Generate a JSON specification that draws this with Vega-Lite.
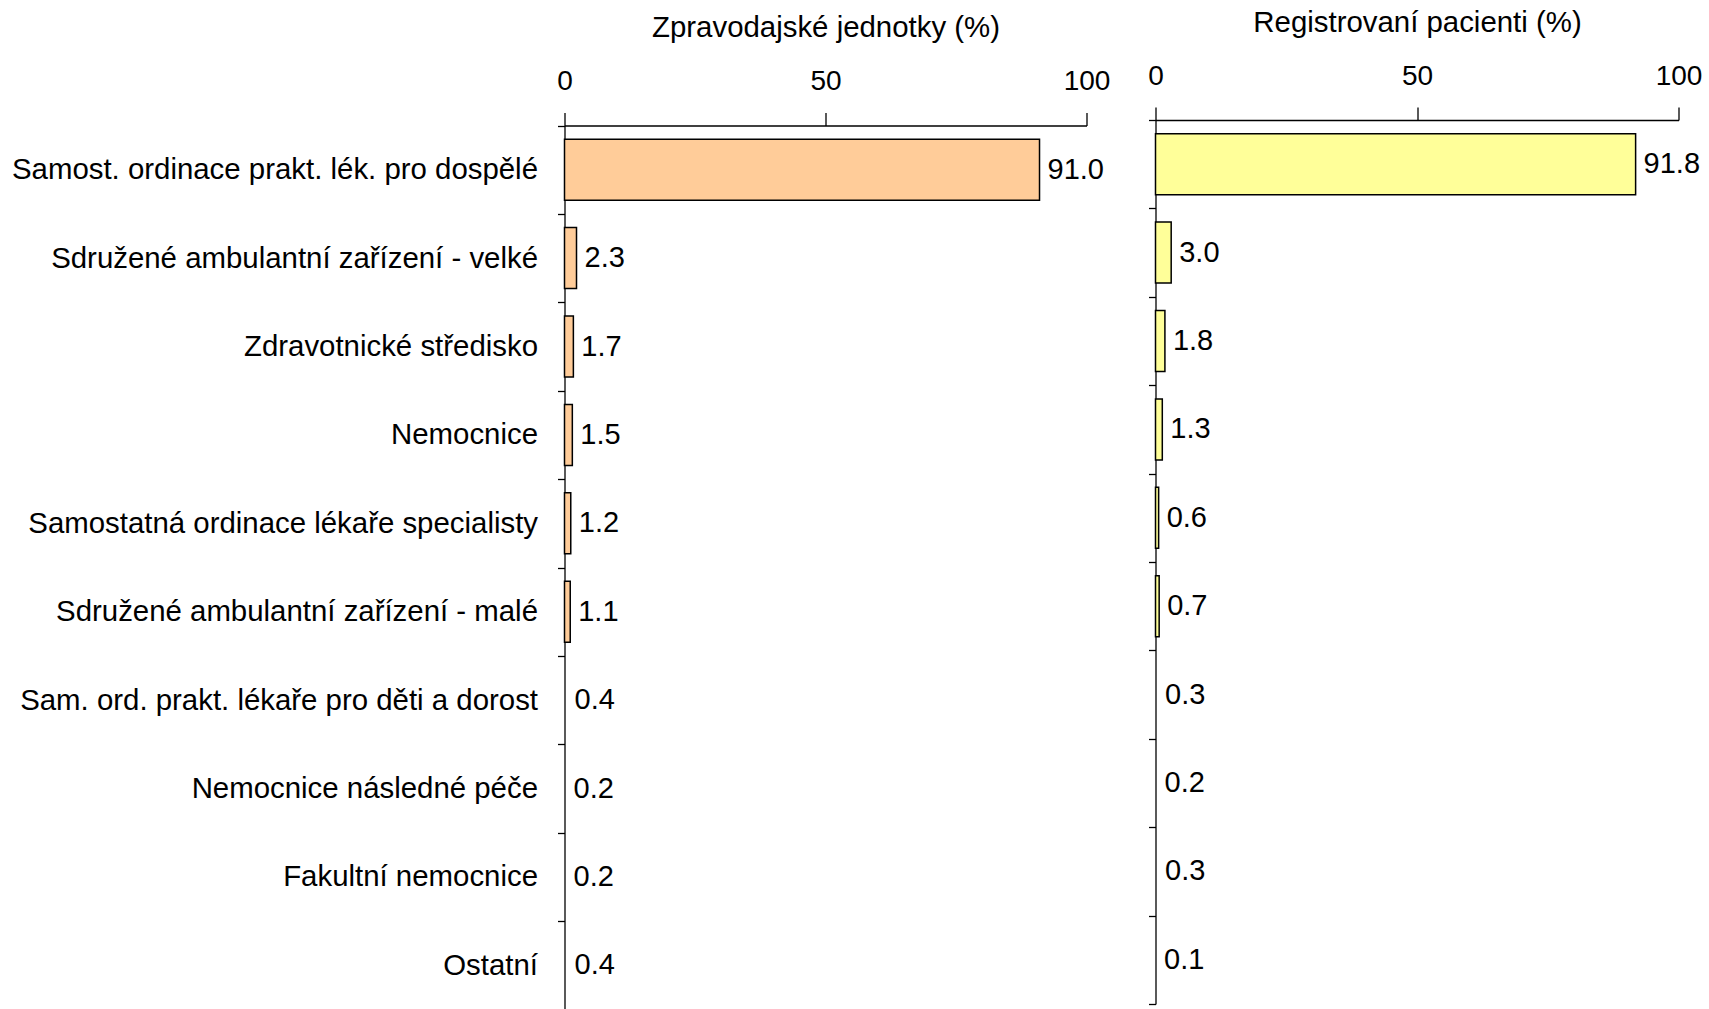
{
  "$schema": "https://vega.github.io/schema/vega-lite/v6.json",
  "padding": {"left": 10.5, "top": 7, "right": 0, "bottom": 0},
  "background": "white",
  "config": {
    "view": {"stroke": null},
    "font": "Liberation Sans",
    "axis": {"domainColor": "black", "tickColor": "black", "labelColor": "black", "titleColor": "black", "grid": false, "domainWidth": 1.3, "tickWidth": 1.3}
  },
  "data": {"values": [
    {"cat": "Samost. ordinace prakt. lék. pro dospělé", "zj": 91.0, "rp": 91.8},
    {"cat": "Sdružené ambulantní zařízení - velké", "zj": 2.3, "rp": 3.0},
    {"cat": "Zdravotnické středisko", "zj": 1.7, "rp": 1.8},
    {"cat": "Nemocnice", "zj": 1.5, "rp": 1.3},
    {"cat": "Samostatná ordinace lékaře specialisty", "zj": 1.2, "rp": 0.6},
    {"cat": "Sdružené ambulantní zařízení - malé", "zj": 1.1, "rp": 0.7},
    {"cat": "Sam. ord. prakt. lékaře pro děti a dorost", "zj": 0.4, "rp": 0.3},
    {"cat": "Nemocnice následné péče", "zj": 0.2, "rp": 0.2},
    {"cat": "Fakultní nemocnice", "zj": 0.2, "rp": 0.3},
    {"cat": "Ostatní", "zj": 0.4, "rp": 0.1}
  ]},
  "spacing": 37,
  "hconcat": [
    {
      "width": 522,
      "height": 889.5,
      "encoding": {
        "y": {"field": "cat", "type": "nominal", "sort": null,
          "scale": {"paddingInner": 0, "paddingOuter": 0, "range": [5.5, 889.5]},
          "axis": {"orient": "left", "title": null, "labelFontSize": 29.4, "tickSize": 7, "labelPadding": 20, "labelLimit": 0, "tickBand": "extent"}},
        "x": {"field": "zj", "type": "quantitative",
          "scale": {"domain": [0, 100], "nice": false},
          "axis": {"orient": "top", "offset": -5.5, "values": [0, 50, 100], "tickSize": 13, "labelPadding": 17, "labelFontSize": 28, "labelFlush": false, "labelOverlap": false,
            "title": "Zpravodajské jednotky (%)", "titleFontSize": 29.4, "titleFontWeight": "normal", "titlePadding": 25}}
      },
      "layer": [
        {"transform": [{"filter": "datum.zj >= 0.5"}],
         "mark": {"type": "bar", "fill": "#FFCC99", "stroke": "black", "strokeWidth": 1.5, "height": {"band": 0.69}}},
        {"mark": {"type": "text", "align": "left", "baseline": "middle", "dx": 8, "dy": 0, "fontSize": 29, "color": "black"},
         "encoding": {"text": {"field": "zj", "type": "quantitative", "format": ".1f"}}}
      ]
    },
    {
      "width": 523,
      "height": 884,
      "encoding": {
        "y": {"field": "cat", "type": "nominal", "sort": null,
          "scale": {"paddingInner": 0, "paddingOuter": 0},
          "axis": {"orient": "left", "title": null, "labels": false, "tickSize": 7, "tickBand": "extent"}},
        "x": {"field": "rp", "type": "quantitative",
          "scale": {"domain": [0, 100], "nice": false},
          "axis": {"orient": "top", "values": [0, 50, 100], "tickSize": 13, "labelPadding": 17, "labelFontSize": 28, "labelFlush": false, "labelOverlap": false,
            "title": "Registrovaní pacienti (%)", "titleFontSize": 29.4, "titleFontWeight": "normal", "titlePadding": 25}}
      },
      "layer": [
        {"transform": [{"filter": "datum.rp >= 0.5"}],
         "mark": {"type": "bar", "fill": "#FFFF99", "stroke": "black", "strokeWidth": 1.5, "height": {"band": 0.69}}},
        {"mark": {"type": "text", "align": "left", "baseline": "middle", "dx": 8, "dy": 0, "fontSize": 29, "color": "black"},
         "encoding": {"text": {"field": "rp", "type": "quantitative", "format": ".1f"}}}
      ]
    }
  ]
}
